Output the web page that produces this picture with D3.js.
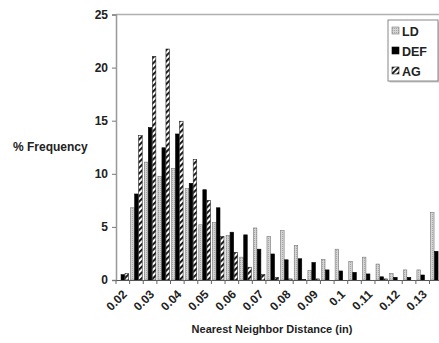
<!DOCTYPE html>
<html><head><meta charset="utf-8">
<script src="https://cdn.jsdelivr.net/npm/d3@7"></script>
<style>body{margin:0;background:#fff;} svg{display:block;font-family:"Liberation Sans",Arial,sans-serif;font-weight:bold;}</style>
</head><body>
<svg id="c" width="439" height="343"></svg>
<script>
const categories = ["0.02","0.025","0.03","0.035","0.04","0.045","0.05","0.055","0.06","0.065","0.07","0.075","0.08","0.085","0.09","0.095","0.1","0.105","0.11","0.115","0.12","0.125","0.13","0.135"];
const tickLabels = ["0.02","0.03","0.04","0.05","0.06","0.07","0.08","0.09","0.1","0.11","0.12","0.13"];
const seriesNames = ["LD","DEF","AG"];
const LD  = [0, 6.8, 11.1, 9.75, 10.5, 8.6, 5.2, 5.4, 4.2, 2.15, 4.9, 4.1, 4.65, 3.25, 0.9, 1.95, 2.9, 1.75, 2.15, 1.5, 0.63, 0.95, 0.95, 6.35];
const DEF = [0.5, 8.1, 14.35, 12.45, 13.75, 9.1, 8.5, 6.8, 4.5, 4.25, 2.9, 2.45, 1.9, 2.0, 1.65, 0.95, 0.85, 0.72, 0.57, 0.3, 0.25, 0.25, 0.47, 2.7];
const AG  = [0.6, 13.6, 21.05, 21.75, 14.95, 11.35, 7.5, 4.1, 2.6, 1.2, 0.5, 0.25, 0.1, 0.05, 0.1, 0, 0, 0, 0, 0.1, 0, 0, 0, 0];
const yTicks = [0,5,10,15,20,25];

(function(){
const svg = d3.select("#c");
const pLeft = 116, pTop = 14.5, pBottom = 280, step = 13.63;
const pRight = pLeft + step*categories.length;

const defs = svg.append("defs");
const pat = defs.append("pattern").attr("id","hatch").attr("patternUnits","userSpaceOnUse")
  .attr("width",4).attr("height",4).attr("patternTransform","rotate(45)");
pat.append("rect").attr("width",4).attr("height",4).attr("fill","#fff");
pat.append("rect").attr("width",1.9).attr("height",4).attr("fill","#111");
const dots = defs.append("pattern").attr("id","dots").attr("patternUnits","userSpaceOnUse")
  .attr("width",2).attr("height",2);
dots.append("rect").attr("width",2).attr("height",2).attr("fill","#d4d4d4");
dots.append("rect").attr("width",1).attr("height",1).attr("fill","#a8a8a8");

const fills = {LD:"url(#dots)", DEF:"#000", AG:"url(#hatch)"};
const strokes = {LD:"#7a7a7a", DEF:"#000", AG:"#222"};

const x0 = d3.scaleBand().domain(categories).range([pLeft,pRight]).padding(0);
const x1 = d3.scaleBand().domain(seriesNames).range([0,x0.bandwidth()]).paddingInner(0).paddingOuter(0.2);
const y = d3.scaleLinear().domain([0,25]).range([pBottom,pTop]);

svg.append("line").attr("x1",pLeft).attr("x2",pRight).attr("y1",pTop).attr("y2",pTop)
  .attr("stroke","#b0b0b0").attr("stroke-width",1.5);

const data = {LD, DEF, AG};
seriesNames.forEach(s=>{
  svg.append("g").selectAll("rect").data(categories).join("rect")
    .attr("x",(c)=>x0(c)+x1(s)+0.25)
    .attr("width",x1.bandwidth()-0.5)
    .attr("y",(c,i)=>y(data[s][i]))
    .attr("height",(c,i)=>y(0)-y(data[s][i]))
    .attr("fill",fills[s])
    .attr("stroke",(c,i)=>data[s][i]>0?strokes[s]:"none")
    .attr("stroke-width",0.6);
});

const ya = svg.append("g").attr("transform",`translate(${pLeft},0)`)
  .call(d3.axisLeft(y).tickValues(yTicks).tickSize(4).tickPadding(4));
ya.select(".domain").attr("stroke","#999").attr("stroke-width",1.5);
ya.selectAll(".tick line").attr("stroke","#777");
ya.selectAll("text").attr("font-size",12).attr("font-weight","bold").attr("fill","#222")
  .attr("font-family","Liberation Sans, Arial, sans-serif");

const xa = svg.append("g").attr("transform",`translate(0,${pBottom})`)
  .call(d3.axisBottom(x0).tickSize(0).tickFormat(d=>tickLabels.includes(d)?d:""));
xa.select(".domain").attr("stroke","#555").attr("stroke-width",1.2);
xa.selectAll("text").attr("font-size",12).attr("font-weight","bold").attr("fill","#222")
  .attr("font-family","Liberation Sans, Arial, sans-serif")
  .attr("text-anchor","end").attr("dy",0).attr("y",0)
  .attr("transform","translate(5,15) rotate(-45)");
svg.append("g").selectAll("line").data(d3.range(categories.length+1)).join("line")
  .attr("x1",i=>pLeft+i*x0.step()).attr("x2",i=>pLeft+i*x0.step())
  .attr("y1",pBottom).attr("y2",pBottom+4).attr("stroke","#666");

svg.append("text").attr("x",13).attr("y",151).attr("font-size",12).attr("fill","#222").text("% Frequency");
svg.append("text").attr("x",272).attr("y",333).attr("text-anchor","middle").attr("font-size",11).attr("fill","#222")
  .text("Nearest Neighbor Distance (in)");

const lg = svg.append("g").attr("transform","translate(388,20)");
lg.append("rect").attr("x",1.5).attr("y",1.5).attr("width",50).attr("height",61).attr("fill","#c8c8c8");
lg.append("rect").attr("width",50).attr("height",61).attr("fill","#fff").attr("stroke","#888");
seriesNames.forEach((s,i)=>{
  const yy = 11 + i*20;
  lg.append("rect").attr("x",4).attr("y",yy-4).attr("width",7).attr("height",7)
    .attr("fill",fills[s]).attr("stroke",strokes[s]).attr("stroke-width",0.6);
  lg.append("text").attr("x",14).attr("y",yy+4.5).attr("font-size",12.5).attr("fill","#222").text(s);
});
})();
</script>
</body></html>
